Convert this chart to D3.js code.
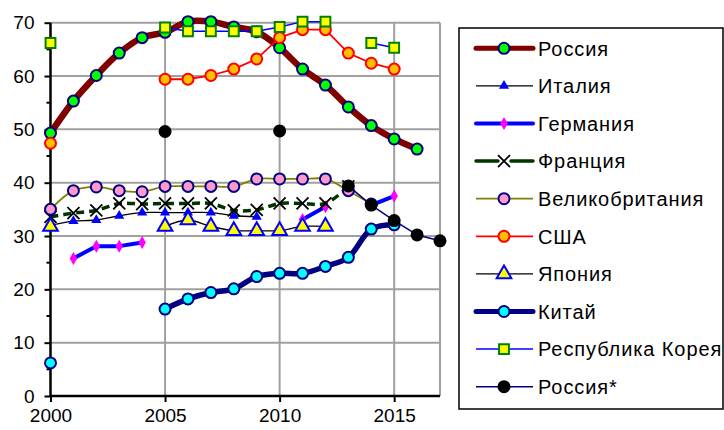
<!DOCTYPE html>
<html>
<head>
<meta charset="utf-8">
<script src="https://cdn.jsdelivr.net/npm/d3@7"></script>
<style>
  body { margin: 0; background: #fff; }
  text { font-family: Arial, "Liberation Sans", sans-serif; }
</style>
</head>
<body>
<div id="chart"></div>
<script>
// chart data, years 2000..2017, null = no value
var years = d3.range(2000, 2018);
var russia   = [49.3,55.3,60.1,64.3,67.2,68.2,70.2,70.2,69.2,68.3,65.3,61.3,58.3,54.2,50.7,48.2,46.3,null];
var italy    = [32.0,32.8,33.0,33.8,34.4,34.4,34.4,34.4,33.8,33.6,null,null,null,null,null,null,null,null];
var germany  = [null,25.8,28.1,28.1,28.8,null,null,null,null,null,null,33.1,35.5,null,35.8,37.5,null,null];
var france   = [33.6,34.3,34.8,36.1,36.0,36.1,36.1,36.1,34.8,34.9,36.1,36.1,36.1,39.3,null,null,null,null];
var uk       = [35.0,38.5,39.2,38.5,38.3,39.3,39.3,39.3,39.3,40.7,40.7,40.7,40.7,38.5,36.0,null,null,null];
var usa      = [47.4,null,null,null,null,59.4,59.4,60.1,61.3,63.2,67.2,68.7,68.7,64.3,62.4,61.3,null,null];
var japan    = [31.8,null,null,null,null,31.8,33.0,31.8,31.0,31.0,31.0,31.8,31.8,null,null,null,null,null];
var china    = [6.2,null,null,null,null,16.3,18.2,19.4,20.1,22.4,23.0,23.0,24.3,26.0,31.3,32.1,null,null];
var korea    = [66.2,null,null,null,null,69.1,68.4,68.4,68.4,68.4,69.2,70.2,70.2,null,66.2,65.3,null,null];
var russia2  = [null,null,null,null,null,49.6,null,null,null,null,49.7,null,null,39.4,35.8,32.9,30.2,29.1];

var seriesNames = ["Россия","Италия","Германия","Франция","Великобритания","США","Япония","Китай","Республика Корея","Россия*"];
var seriesValues = [russia, italy, germany, france, uk, usa, japan, china, korea, russia2];
var yTicks = [0,10,20,30,40,50,60,70];
var xTicks = [2000,2005,2010,2015];

// styles per series
var styles = [
  {line:"#800000", w:6.5, smooth:true,  marker:"circle",   fill:"#00ff00", stroke:"#000080", r:5.5},
  {line:"#000000", w:1.3, smooth:true,  marker:"triangle", fill:"#0000ff", stroke:"none",    r:4.5},
  {line:"#0000ff", w:4,   smooth:false, marker:"diamond",  fill:"#ff00ff", stroke:"none",    r:4.5},
  {line:"#003300", w:3.5, smooth:true,  marker:"x",        fill:"none",    stroke:"#000000", r:6, dash:"8,5"},
  {line:"#808000", w:1.8, smooth:true,  marker:"circle",   fill:"#ff99cc", stroke:"#000080", r:5.5},
  {line:"#ff0000", w:1.8, smooth:false, marker:"circle",   fill:"#ffbf00", stroke:"#ff0000", r:5.5},
  {line:"#000000", w:1.3, smooth:true,  marker:"triangle", fill:"#ffff00", stroke:"#0000ff", r:6.5},
  {line:"#000080", w:5.5, smooth:true,  marker:"circle",   fill:"#00ffff", stroke:"#000080", r:5.5},
  {line:"#0000ff", w:1.5, smooth:false, marker:"square",   fill:"#ffff00", stroke:"#008000", r:5.5},
  {line:"#000080", w:1.5, smooth:false, marker:"circle",   fill:"#000000", stroke:"#000000", r:5.5}
];

var width = 724, height = 430;
var svg = d3.select("#chart").append("svg")
    .attr("width", width)
    .attr("height", height);

var x = d3.scaleLinear().domain([2000, 2017]).range([50.5, 440]);
var y = d3.scaleLinear().domain([0, 70]).range([396, 22.7]);

// grid
var grid = svg.append("g");
grid.selectAll("line.h").data(yTicks.slice(1)).enter().append("line")
    .attr("x1", x(2000)).attr("x2", x(2017))
    .attr("y1", d => y(d)).attr("y2", d => y(d))
    .attr("stroke", "#a0a0a0").attr("stroke-width", 2);
grid.selectAll("line.v").data([2005, 2010, 2015, 2017]).enter().append("line")
    .attr("x1", d => x(d)).attr("x2", d => x(d))
    .attr("y1", y(0)).attr("y2", y(70))
    .attr("stroke", "#a0a0a0").attr("stroke-width", 2);

// minor y ticks at 5s
svg.append("g").selectAll("line").data(d3.range(5, 70, 10)).enter().append("line")
    .attr("x1", x(2000) - 4).attr("x2", x(2000))
    .attr("y1", d => y(d)).attr("y2", d => y(d))
    .attr("stroke", "#000").attr("stroke-width", 2);

// axes
var yAxis = svg.append("g")
    .attr("transform", "translate(" + x(2000) + ",0)")
    .call(d3.axisLeft(y).tickValues(yTicks).tickSize(6).tickPadding(10).tickFormat(d3.format("d")));
var xAxis = svg.append("g")
    .attr("transform", "translate(0," + y(0) + ")")
    .call(d3.axisBottom(x).tickValues(xTicks).tickSize(6).tickPadding(7).tickFormat(d3.format("d")));
[yAxis, xAxis].forEach(function(a){
  a.select(".domain").attr("stroke", "#000").attr("stroke-width", 2.5);
  a.selectAll(".tick line").attr("stroke", "#000").attr("stroke-width", 2);
  a.selectAll(".tick text").attr("fill", "#000").style("font-size", "19px");
});
// x axis domain without outer ticks stretching
xAxis.select(".domain").attr("d", "M" + x(2000) + ",0H" + x(2017));
yAxis.select(".domain").attr("d", "M0," + y(0) + "V" + y(70));

function markerPath(type, r) {
  if (type === "triangle") return d3.symbol().type(d3.symbolTriangle).size(r * r * 2.2)();
  if (type === "diamond") return d3.symbol().type(d3.symbolDiamond).size(r * r * 2.4)();
  if (type === "square") return d3.symbol().type(d3.symbolSquare).size(r * r * 3.2)();
  if (type === "x") return "M" + (-r) + "," + (-r) + "L" + r + "," + r + "M" + (-r) + "," + r + "L" + r + "," + (-r);
  return d3.symbol().type(d3.symbolCircle).size(Math.PI * r * r)();
}

function drawMarker(g, st) {
  g.append("path")
    .attr("d", markerPath(st.marker, st.r))
    .attr("fill", st.fill)
    .attr("stroke", st.stroke)
    .attr("stroke-width", st.marker === "x" ? 1.8 : 2);
}

// series
seriesValues.forEach(function(vals, i) {
  var st = styles[i];
  var pts = years.map(function(yr, k){ return {x: yr, v: vals[k]}; });
  var line = d3.line()
      .defined(d => d.v !== null)
      .x(d => x(d.x))
      .y(d => y(d.v))
      .curve(st.smooth ? d3.curveCatmullRom.alpha(0.5) : d3.curveLinear);
  var g = svg.append("g");
  g.append("path")
    .datum(pts)
    .attr("d", line)
    .attr("fill", "none")
    .attr("stroke", st.line)
    .attr("stroke-width", st.w)
    .attr("stroke-linejoin", "round")
    .attr("stroke-linecap", st.dash ? "butt" : "round")
    .attr("stroke-dasharray", st.dash || null);
  g.selectAll("g.m").data(pts.filter(d => d.v !== null)).enter().append("g")
    .attr("transform", d => "translate(" + x(d.x) + "," + y(d.v) + ")")
    .each(function(){ drawMarker(d3.select(this), st); });
});

// legend
var lg = svg.append("g");
lg.append("rect")
  .attr("x", 459).attr("y", 28).attr("width", 264).attr("height", 381)
  .attr("fill", "#fff").attr("stroke", "#000").attr("stroke-width", 1.5);
var rowY = d3.scaleLinear().domain([0, 9]).range([48.3, 386.7]);
seriesNames.forEach(function(name, i) {
  var st = styles[i];
  var row = lg.append("g").attr("transform", "translate(0," + rowY(i) + ")");
  row.append("line")
    .attr("x1", 476).attr("x2", 533).attr("y1", 0).attr("y2", 0)
    .attr("stroke", st.line)
    .attr("stroke-width", Math.min(st.w, 5))
    .attr("stroke-linecap", st.w > 3 ? "round" : "butt")
    .attr("stroke-dasharray", st.dash ? "22,13,22" : null);
  var m = row.append("g").attr("transform", "translate(504,0)");
  drawMarker(m, st);
  row.append("text")
    .attr("x", 538).attr("y", 0).attr("dy", "0.36em")
    .style("font-size", "20px")
    .style("letter-spacing", "0.9px")
    .attr("fill", "#000")
    .text(name);
});
</script>
</body>
</html>
